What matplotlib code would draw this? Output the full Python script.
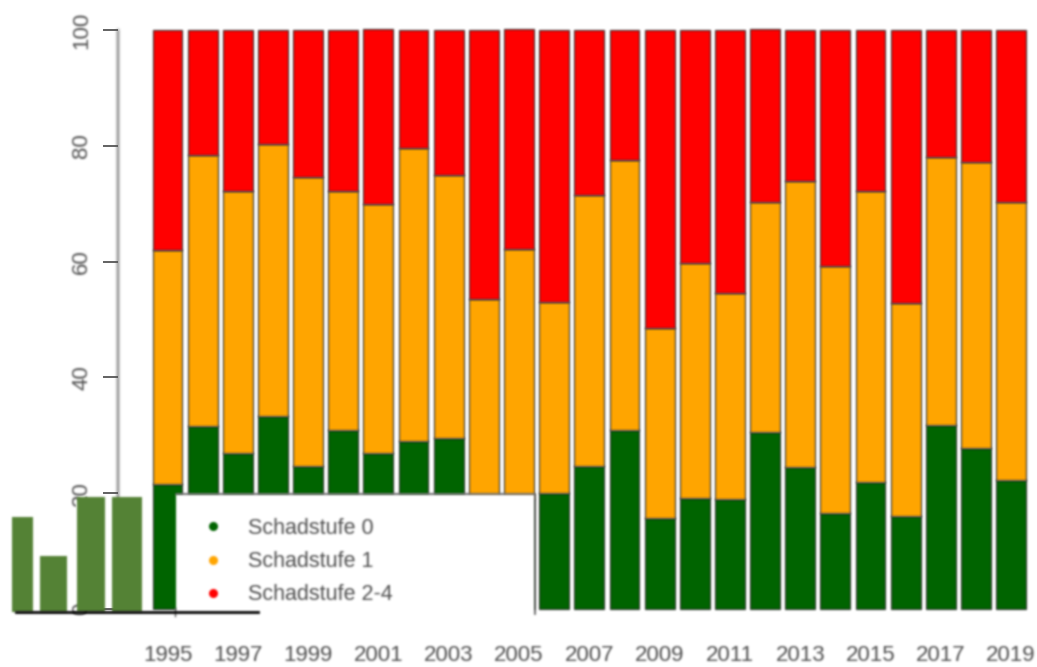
import matplotlib
matplotlib.use("Agg")
import matplotlib.pyplot as plt
from matplotlib.lines import Line2D
from matplotlib.patches import Rectangle
import numpy as np

plt.rcParams["font.family"] = ["Liberation Sans", "DejaVu Sans"]

years = list(range(1995, 2020))
tick_years = list(range(1995, 2020, 2))
y_ticks = [0, 20, 40, 60, 80, 100]

schad_0 = [21.6, 31.6, 27.0, 33.3, 24.7, 31.0, 27.0, 29.0, 29.5, 19.0, 19.0, 20.0, 24.7,
           31.0, 15.7, 19.2, 19.0, 30.6, 24.5, 16.6, 22.0, 16.0, 31.8, 27.8, 22.3]
schad_1 = [40.4, 46.8, 45.2, 47.0, 49.9, 41.2, 43.0, 50.6, 45.5, 34.5, 43.2, 33.0, 46.8,
           46.5, 32.8, 40.6, 35.6, 39.7, 49.4, 42.6, 50.2, 36.8, 46.2, 49.4, 48.0]
schad_24 = [38.0, 21.6, 27.8, 19.7, 25.4, 27.8, 30.2, 20.4, 25.0, 46.5, 37.9, 47.0, 28.5,
            22.5, 51.5, 40.2, 45.4, 29.8, 26.1, 40.8, 27.8, 47.2, 22.0, 22.8, 29.7]

labels = ["Schadstufe 0", "Schadstufe 1", "Schadstufe 2-4"]
colors = ["#006400", "#FFA500", "#FF0000"]

# the stray green bars pasted over the lower left corner
stray_heights = [95, 56, 115, 115]
stray_color = "#548235"


def blur(img, dpi):
    # the reference is a soft, upscaled screenshot
    kernel = np.array([1, 3, 5, 3, 1], dtype=float)
    kernel /= kernel.sum()
    pad = 4
    out = np.pad(img, ((pad, pad), (pad, pad), (0, 0)))
    # premultiply so that the transparent surround does not darken edges
    out[..., :3] *= out[..., 3:]
    out = np.apply_along_axis(lambda c: np.convolve(c, kernel, mode="same"), 0, out)
    out = np.apply_along_axis(lambda c: np.convolve(c, kernel, mode="same"), 1, out)
    a = np.clip(out[..., 3:], 1e-6, 1)
    out[..., :3] = np.clip(out[..., :3] / a, 0, 1)
    return out, -pad, -pad


fig = plt.figure(figsize=(10.37, 6.67), dpi=100)

# main axes fill the figure, limits chosen so the bars land where they do in the picture
ax = fig.add_axes([0, 0, 1, 1])
x = np.arange(len(years))
bottom = np.zeros(len(years))
for vals, col in zip([schad_0, schad_1, schad_24], colors):
    ax.bar(x, vals, width=0.85, bottom=bottom, color=col, edgecolor="#333333", linewidth=0.8)
    bottom += np.array(vals)

ax.set_xlim(-167.5 / 35.15, (1037 - 167.5) / 35.15)
ax.set_ylim((609 - 667) / 5.79, 609 / 5.79)
ax.patch.set_visible(False)

for side in ["top", "right"]:
    ax.spines[side].set_visible(False)
ax.spines["left"].set_position(("data", (118 - 167.5) / 35.15))
ax.spines["left"].set_bounds(0, 100)
ax.spines["left"].set_color("#555555")
ax.spines["left"].set_linewidth(1.3)
ax.spines["bottom"].set_position(("data", 0))
ax.spines["bottom"].set_color("none")

ax.set_yticks(y_ticks)
ax.tick_params(axis="y", length=10.5, width=1.3, color="#555555", labelcolor="#505050",
               labelsize=16, pad=8)
for t in ax.get_yticklabels():
    t.set_rotation(90)
    t.set_va("center")

ax.set_xticks([years.index(y) for y in tick_years])
ax.set_xticklabels(tick_years)
ax.tick_params(axis="x", length=0, labelcolor="#505050", labelsize=16, pad=26)

# overlay in pixel coordinates for the legend box and the pasted bars
over = fig.add_axes([0, 0, 1, 1])
over.set_xlim(0, 1037)
over.set_ylim(667, 0)
over.axis("off")

over.add_patch(Rectangle((176, 494), 359, 122, facecolor="white", edgecolor="none"))
over.plot([176, 535, 535], [494, 494, 614], color="#555555", lw=1.2)
over.plot([175, 175], [608, 616], color="#555555", lw=1)

over.bar([22.5, 53.5, 90.5, 126.5], stray_heights, width=[21, 27, 28, 30],
         bottom=612 - np.array(stray_heights), color=stray_color)
over.plot([16, 258], [612, 612], color="black", lw=2)

handles = [Line2D([], [], linestyle="none", marker="o", markersize=5.5, color=c) for c in colors]
leg = over.legend(handles, labels, loc="upper left", bbox_to_anchor=(202.4 / 1037, 1 - 518 / 667),
                  frameon=False, fontsize=15.5, labelcolor="#505050", handlelength=1,
                  handletextpad=1.13, labelspacing=0.56, borderaxespad=0, borderpad=0)

for a in ax.patches + ax.get_xticklabels() + ax.get_yticklabels() + over.patches + over.lines:
    a.set_agg_filter(blur)
for s in ax.spines.values():
    s.set_agg_filter(blur)
for t in leg.get_texts():
    t.set_agg_filter(blur)
for h in leg.legend_handles:
    h.set_agg_filter(blur)

fig.savefig("out.png", dpi=100)
